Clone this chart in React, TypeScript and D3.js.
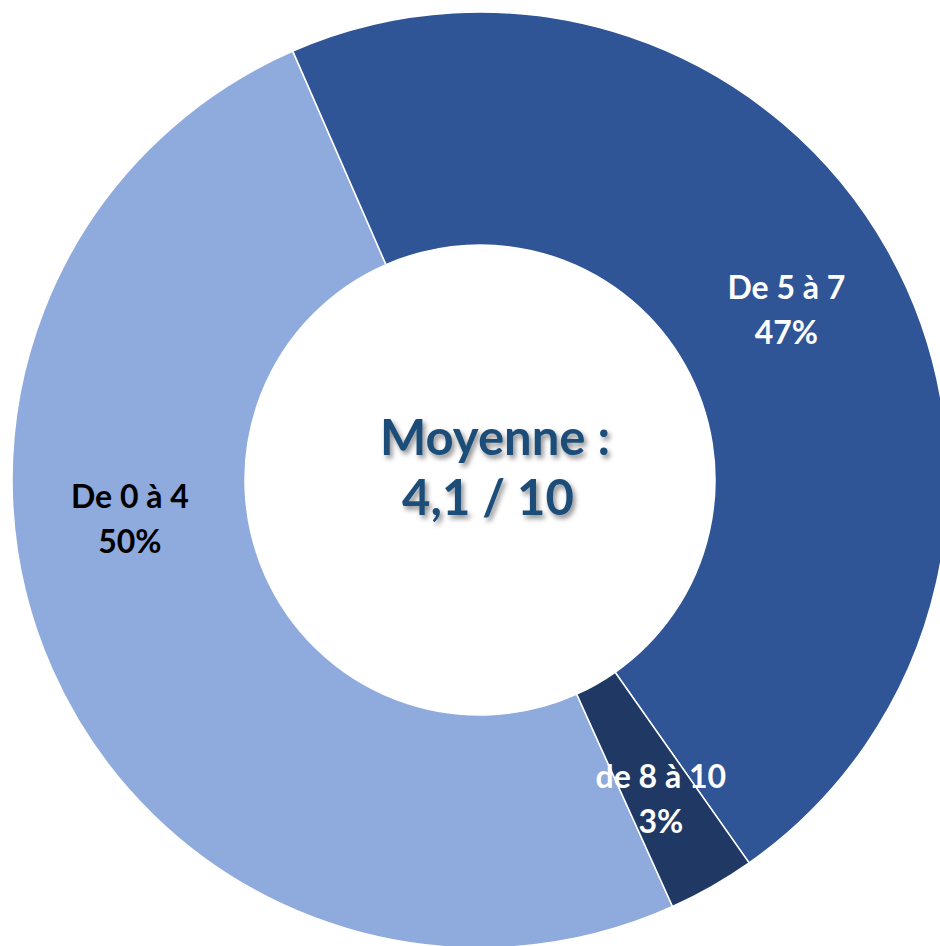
import React from 'react'
import * as d3 from 'd3'

// data
const categories = ['De 0 à 4', 'De 5 à 7', 'de 8 à 10']
const shares = [50.2, 46.8, 3.0]
const percentLabels = ['50%', '47%', '3%']
const centerLines = ['Moyenne :', '4,1 / 10']

const colors = ['#8FAADC', '#2F5597', '#1F3864']
const labelColors = ['#000000', '#FFFFFF', '#FFFFFF']

const W = 940
const H = 946

function App() {
	const cx = 480
	const cy = 480
	const outerR = 468
	const innerR = 235

	// first slice starts a bit past 5 o'clock, like the excel "angle of first slice"
	const start = (155.7 * Math.PI) / 180
	const pie = d3.pie<number>().sort(null).value(d => d)
		.startAngle(start).endAngle(start + 2 * Math.PI)
	const arcs = pie(shares)

	const arc = d3.arc<d3.PieArcDatum<number>>()
		.innerRadius(innerR)
		.outerRadius(outerR)

	// label placement: centroid, except the big left slice (label was dragged in excel)
	const labelPos = (a: d3.PieArcDatum<number>, i: number) => {
		if (i === 0) {
			const ang = (264 * Math.PI) / 180
			const r = 352
			return [Math.sin(ang) * r, -Math.cos(ang) * r]
		}
		if (i === 2) {
			const mid = (a.startAngle + a.endAngle) / 2
			const r = 365
			return [Math.sin(mid) * r, -Math.cos(mid) * r]
		}
		return arc.centroid(a)
	}

	return (
		<svg width={W} height={H} style={{ position: 'absolute', left: 0, top: 0 }}>
			<defs>
				<filter id="shadow" x="-20%" y="-40%" width="140%" height="180%">
					<feDropShadow dx="2.5" dy="3.5" stdDeviation="2.5" floodColor="#000" floodOpacity="0.45" />
				</filter>
			</defs>
			<g transform={`translate(${cx},${cy})`}>
				{arcs.map((a, i) => (
					<path key={categories[i]} d={arc(a) || ''} fill={colors[i]} stroke="#fff" strokeWidth={1.5} />
				))}
				{arcs.map((a, i) => {
					const [x, y] = labelPos(a, i)
					return (
						<text key={'l' + i} x={x} y={y} textAnchor="middle"
							fontFamily="Lato, 'Open Sans', sans-serif" fontWeight="bold" fontSize={32}
							fill={labelColors[i]}>
							<tspan x={x} dy={-9}>{categories[i]}</tspan>
							<tspan x={x} dy={45}>{percentLabels[i]}</tspan>
						</text>
					)
				})}
				<text textAnchor="middle" fontFamily="Lato, 'Open Sans', sans-serif" fontWeight="bold"
					fontSize={49} fill="#1F4E79" filter="url(#shadow)">
					<tspan x={15} y={-25}>{centerLines[0]}</tspan>
					<tspan x={8} y={35}>{centerLines[1]}</tspan>
				</text>
			</g>
		</svg>
	)
}

export default App
